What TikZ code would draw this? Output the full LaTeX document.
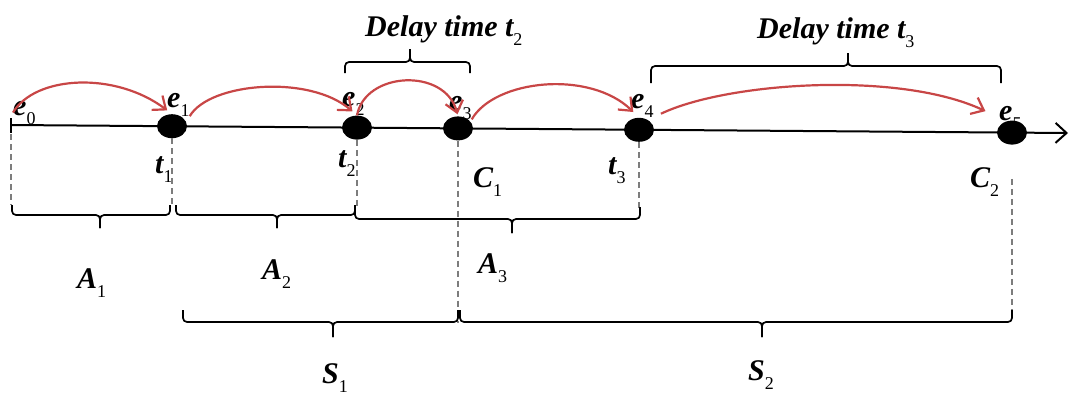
\documentclass[tikz,border=0pt]{standalone}
\usepackage{fontspec}
\setmainfont{Liberation Serif}
\usetikzlibrary{arrows.meta,shapes.geometric}
\definecolor{arcred}{RGB}{200,70,70}
\definecolor{guidegray}{RGB}{125,125,125}
\newcommand{\lsub}[1]{\raisebox{-0.3em}{\fontsize{18}{18}\selectfont\mdseries\upshape #1}}
% brace: x1, x2, y of legs, y of bar, x of tip, y of tip
\newcommand{\tbrace}[6]{%
  \draw[brc] (#1,#3) -- (#1,#4) -- (#5,#4) -- (#5,#6);
  \draw[brc] (#2,#3) -- (#2,#4) -- (#5,#4) -- (#5,#6);}

\begin{document}
\begin{tikzpicture}[x=1pt,y=-1pt,
  dot/.style={ellipse,fill=black,inner sep=0,minimum width=30pt,minimum height=24pt},
  lab/.style={inner sep=0,anchor=base west,font=\fontsize{30}{30}\selectfont\bfseries\itshape},
  elab/.style={lab,font=\fontsize{30}{30}\selectfont\bfseries\itshape},
  hop/.style={draw=arcred,line width=2.2pt,-{Straight Barb[length=11pt,width=18pt,line width=2.2pt]}},
  guide/.style={draw=guidegray,line width=1.1pt,dash pattern=on 6pt off 4pt},
  brc/.style={line width=1.7pt,rounded corners=4pt}]
\useasboundingbox (0,0) rectangle (1070,394);

% time axis
\coordinate (o) at (11,125);
\coordinate (tip) at (1068,133);
\draw[line width=2pt,-{Straight Barb[length=11pt,width=20pt,line width=2pt]}] (o) -- (tip);
\draw[line width=2pt] (o) ++(0,-7) -- ++(0,15);

% events
\node[dot] (d1) at (172,126.2) {};
\node[dot] (d2) at (357,127.6) {};
\node[dot] (d3) at (458,128.4) {};
\node[dot] (d4) at (639,129.8) {};
\node[dot] (d5) at (1012,132.6) {};

\node[elab] (e0) at (13,115) {e\lsub{0}};
\node[elab] (e1) at (167,107) {e\lsub{1}};
\node[elab] (e2) at (342,106) {e\lsub{2}};
\node[elab] (e3) at (449,110) {e\lsub{3}};
\node[elab] (e4) at (631,108) {e\lsub{4}};
\node[elab] (e5) at (999,120) {e\lsub{5}};

% jumps
\draw[hop,shorten >=6pt] (e0.west) .. controls +(22,-37) and +(-57,-43) .. (d1.north);
\draw[hop,shorten >=6pt] (e1.south east) .. controls +(20,-34) and +(-47,-41) .. (d2.north);
\draw[hop,shorten >=2pt] (d2.north) .. controls +(8,-44) and +(-13,-49) .. (d3.north);
\draw[hop,shorten >=8pt] (e3.south east) .. controls +(23,-40) and +(-49,-48) .. (d4.north);
\draw[hop,shorten <=8pt,shorten >=15pt] (e4.south east) .. controls +(73,-35) and +(-100,-47) .. (e5.west);

% times
\node[lab] (t1) at (155,173) {t\lsub{1}};
\node[lab] (t2) at (338,167) {t\lsub{2}};
\node[lab] (c1) at (473,187) {C\lsub{1}};
\node[lab] (t3) at (608,174) {t\lsub{3}};
\node[lab] (c2) at (970,187) {C\lsub{2}};

\draw[guide] (o) ++(0,9) -- ++(0,71);
\draw[guide] (d1.south) -- ++(0,67);
\draw[guide] (d2.south) -- ++(0,69);
\draw[guide] (d3.south) -- ++(0,182);
\draw[guide] (d4.south) -- ++(0,67);
\draw[guide] (d5.south) ++(0,34) -- ++(0,134);

% intervals
\tbrace{12}{170}{205}{215}{100}{228}
\tbrace{176}{355}{205}{215}{277}{228}
\tbrace{355}{640}{207}{219}{512}{233}
\tbrace{183}{458}{310}{322}{333}{337}
\tbrace{460}{1012}{310}{322}{762}{337}
\tbrace{345}{470}{73}{62}{410}{49}
\tbrace{651}{1001}{83}{66}{848}{53}

\node[lab] (a1) at (77,288) {A\lsub{1}};
\node[lab] (a2) at (262,279) {A\lsub{2}};
\node[lab] (a3) at (478,273) {A\lsub{3}};
\node[lab] (s1) at (322,383) {S\lsub{1}};
\node[lab] (s2) at (748,380) {S\lsub{2}};
\node[lab] (dly2) at (365,36) {Delay time t\lsub{2}};
\node[lab] (dly3) at (757,38) {Delay time t\lsub{3}};
\end{tikzpicture}
\end{document}
